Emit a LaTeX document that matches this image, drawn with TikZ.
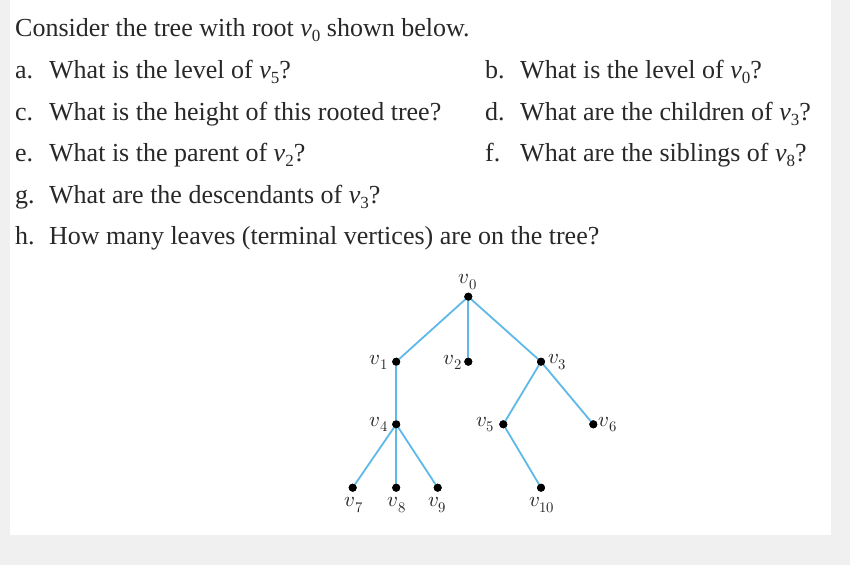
\documentclass[tikz,border=0pt]{standalone}
\usepackage{fontspec}
\usepackage{unicode-math}
\setmainfont{Liberation Serif}
\setmathfont{Latin Modern Math}
\definecolor{pagegrey}{RGB}{240,240,240}
\definecolor{inkc}{RGB}{40,40,40}
\definecolor{edgeblue}{RGB}{95,185,232}
\newcommand{\vsub}[1]{\textit{v}\raisebox{-5pt}{\fontsize{17}{18}\selectfont #1}}
\begin{document}
\begin{tikzpicture}[x=1pt,y=-1pt,
  qtext/.style={anchor=base west,inner sep=0pt,text=inkc,font=\fontsize{26}{30}\selectfont},
  dot/.style={circle,fill=black,inner sep=0pt,minimum size=8pt},
  vlab/.style={inner sep=0pt,text=inkc,font=\fontsize{21}{24}\selectfont},
  edge/.style={draw=edgeblue,line width=1.8pt}]
\useasboundingbox (0,0) rectangle (850,565);
\fill[pagegrey] (0,0) rectangle (850,565);
\fill[white] (10,0) rectangle (831,535);
% questions
\node[qtext] (intro) at (15,36) {Consider the tree with root \vsub{0} shown below.};
\node[qtext] (qa) at (15,78) {a.};
\node[qtext] (qat) at (49,78) {What is the level of \vsub{5}?};
\node[qtext] (qb) at (485,78) {b.};
\node[qtext] (qbt) at (520,78) {What is the level of \vsub{0}?};
\node[qtext] (qc) at (15,120) {c.};
\node[qtext] (qct) at (49,120) {What is the height of this rooted tree?};
\node[qtext] (qd) at (485,120) {d.};
\node[qtext] (qdt) at (520,120) {What are the children of \vsub{3}?};
\node[qtext] (qe) at (15,161) {e.};
\node[qtext] (qet) at (49,161) {What is the parent of \vsub{2}?};
\node[qtext] (qf) at (485,161) {f.};
\node[qtext] (qft) at (520,161) {What are the siblings of \vsub{8}?};
\node[qtext] (qg) at (15,203) {g.};
\node[qtext] (qgt) at (49,203) {What are the descendants of \vsub{3}?};
\node[qtext] (qh) at (15,244) {h.};
\node[qtext] (qht) at (49,244) {How many leaves (terminal vertices) are on the tree?};
% tree
\node[dot] (v0) at (468.3,296.7) {};
\node[dot] (v1) at (396.2,361.7) {};
\node[dot] (v2) at (468.3,361.7) {};
\node[dot] (v3) at (541,361.7) {};
\node[dot] (v4) at (396.2,424.3) {};
\node[dot] (v5) at (503.3,424.3) {};
\node[dot] (v6) at (593.3,424.3) {};
\node[dot] (v7) at (352.7,487.7) {};
\node[dot] (v8) at (396.2,487.7) {};
\node[dot] (v9) at (437.7,487.7) {};
\node[dot] (v10) at (541,487.7) {};
\draw[edge] (v0.center) -- (v1.center);
\draw[edge] (v0.center) -- (v2.center);
\draw[edge] (v0.center) -- (v3.center);
\draw[edge] (v1.center) -- (v4.center);
\draw[edge] (v4.center) -- (v7.center);
\draw[edge] (v4.center) -- (v8.center);
\draw[edge] (v4.center) -- (v9.center);
\draw[edge] (v3.center) -- (v5.center);
\draw[edge] (v3.center) -- (v6.center);
\draw[edge] (v5.center) -- (v10.center);
\foreach \n in {v0,v1,v2,v3,v4,v5,v6,v7,v8,v9,v10} {\fill[black] (\n) circle (4pt);}
% labels
\node[vlab] (l0) at (468,282) {$v_0$};
\node[vlab] (l1) at (379,362) {$v_1$};
\node[vlab] (l2) at (453,362) {$v_2$};
\node[vlab] (l3) at (557.5,362) {$v_3$};
\node[vlab] (l4) at (379,424.5) {$v_4$};
\node[vlab] (l5) at (485.5,424.5) {$v_5$};
\node[vlab] (l6) at (608,424.5) {$v_6$};
\node[vlab] (l7) at (354,505) {$v_7$};
\node[vlab] (l8) at (397,505) {$v_8$};
\node[vlab] (l9) at (437.5,505) {$v_9$};
\node[vlab] (l10) at (542,505) {$v_{10}$};
\end{tikzpicture}
\end{document}
